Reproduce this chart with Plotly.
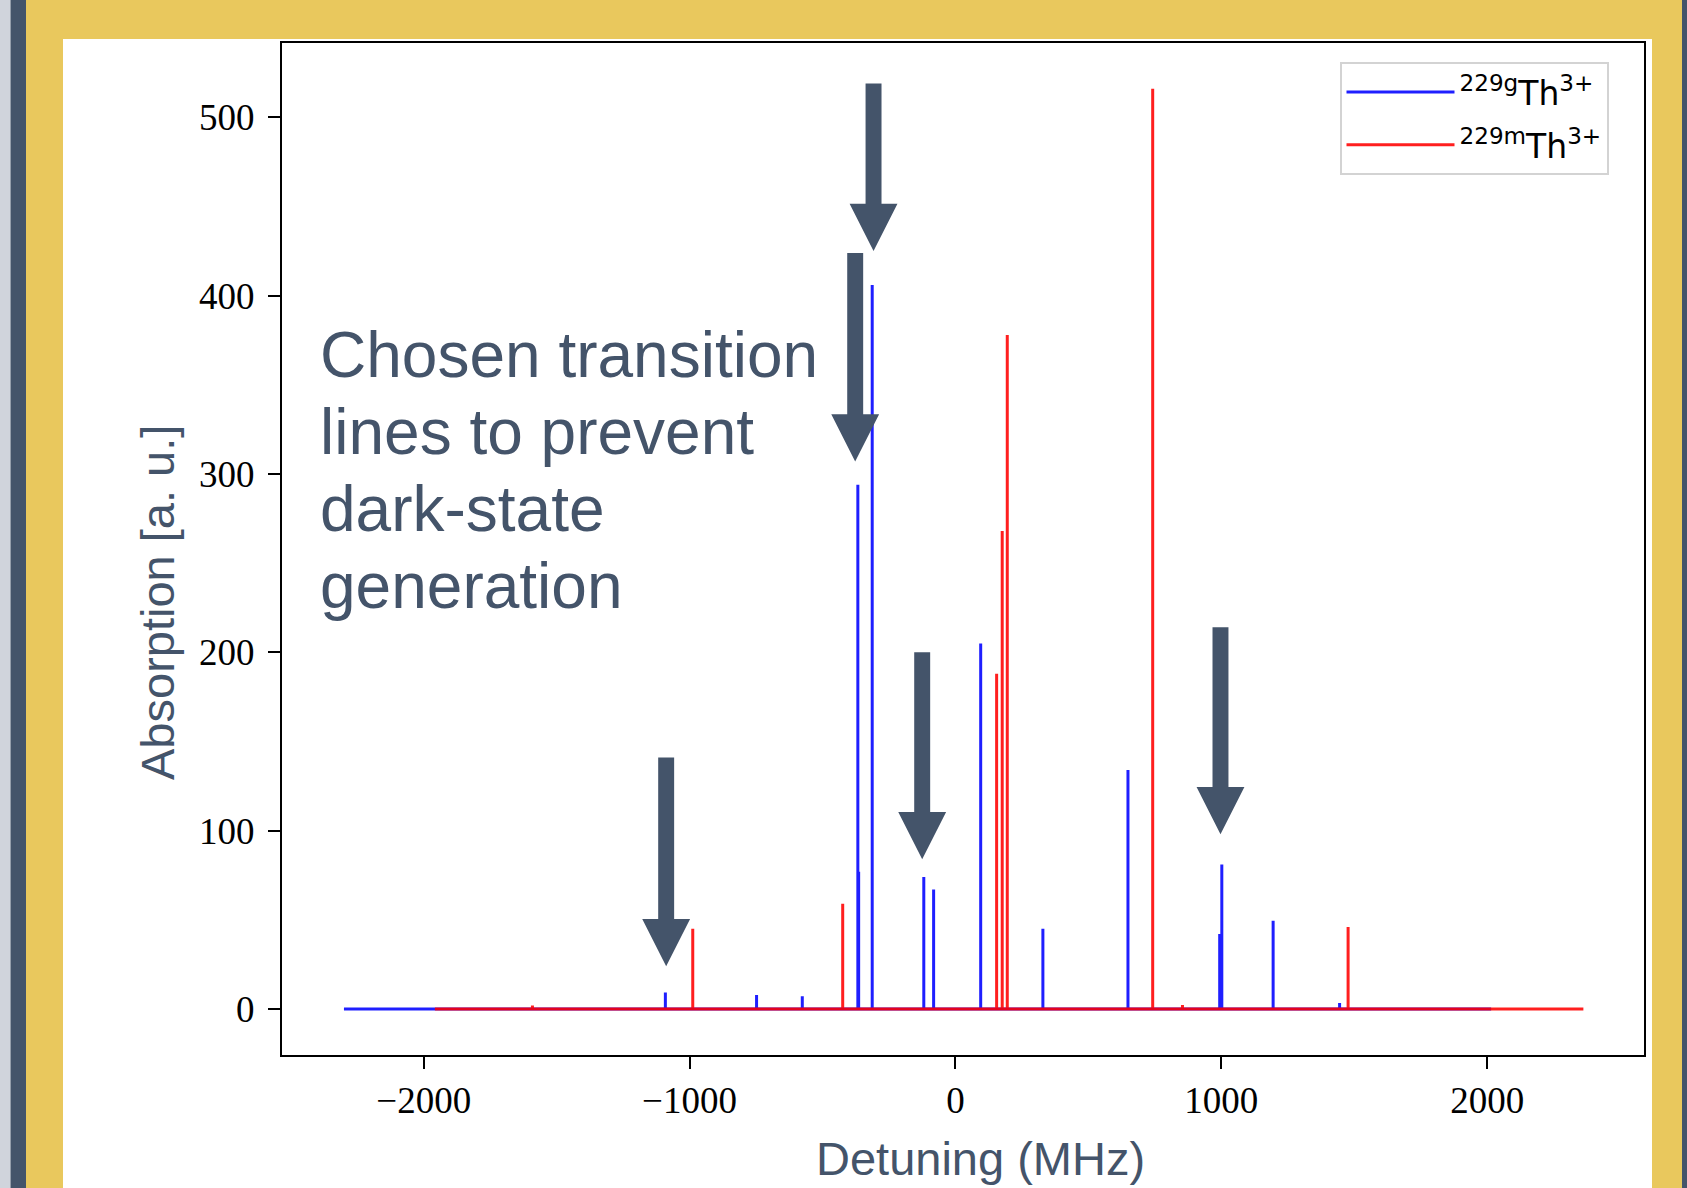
import plotly.graph_objects as go

# ---------------- data ----------------
blue_name = "<sup>229g</sup>Th<sup>3+</sup>"
red_name = "<sup>229m</sup>Th<sup>3+</sup>"

blue_span = [-2300, 2015]          # MHz, extent of the computed spectrum
blue_pos = [-1091, -748, -576, -367, -364, -313, -119, -82, 95, 329, 649, 994, 1002, 1195, 1445]
blue_amp = [9.3, 7.8, 7.1, 294, 77, 406, 74, 67, 205, 45, 134, 42, 81, 49.5, 3.4]

red_span = [-1958, 2362]
red_pos = [-1591, -988, -424, 155, 176, 195, 742, 854, 1477]
red_amp = [2.0, 45, 59, 188, 268, 378, 516, 2.2, 46]

x_ticks = [-2000, -1000, 0, 1000, 2000]
y_ticks = [0, 100, 200, 300, 400, 500]

# annotation arrows: (centre MHz, top of shaft, tip) in data units
arrows = [(-308, 519, 425), (-377, 424, 307), (-125, 200, 84), (997, 214, 98), (-1088, 141, 24)]
note_lines = ["Chosen transition", "lines to prevent", "dark-state", "generation"]

# ---------------- layout geometry ----------------
W, H = 1687, 1188
L, R, T, B = 282, 43, 43, 133
PW, PH = W - L - R, H - T - B
SLATE = "#44546a"
GOLD = "#e9c85d"


def px(x):
    return (x - L) / PW


def py(y):
    return (H - B - y) / PH


def spectrum(span, pos, amp):
    xs, ys = [span[0]], [0]
    for p, a in sorted(zip(pos, amp)):
        xs += [p, p, p]
        ys += [0, a, 0]
    xs.append(span[1])
    ys.append(0)
    return xs, ys


fig = go.Figure()
bx, by = spectrum(blue_span, blue_pos, blue_amp)
rx, ry = spectrum(red_span, red_pos, red_amp)
fig.add_trace(go.Scatter(x=bx, y=by, mode="lines", name=blue_name,
                         line=dict(color="rgba(0,0,255,0.88)", width=3), legendgroup="g"))
fig.add_trace(go.Scatter(x=rx, y=ry, mode="lines", name=red_name,
                         line=dict(color="rgba(255,0,0,0.88)", width=3), legendgroup="m"))

shapes = []
# slide decoration around the figure
for (x0, x1, y0, y1, col) in [
    (0, 10.5, 0, H, "#d0d4dc"),
    (10.5, 26, 0, H, SLATE),
    (26, 63, 0, H, GOLD),
    (26, 1682, 0, 39, GOLD),
    (1652, 1682, 0, H, GOLD),
    (1682, W, 0, H, SLATE),
]:
    shapes.append(dict(type="rect", xref="paper", yref="paper",
                       x0=px(x0), x1=px(x1), y0=py(y1), y1=py(y0),
                       fillcolor=col, line=dict(width=0), layer="below"))

# block arrows
hw, hh, head_h = 30, 90, 26.5
for xc, top, tip in arrows:
    hb = tip + head_h
    path = (f"M {xc-hw},{top} L {xc+hw},{top} L {xc+hw},{hb} L {xc+hh},{hb} "
            f"L {xc},{tip} L {xc-hh},{hb} L {xc-hw},{hb} Z")
    shapes.append(dict(type="path", xref="x", yref="y", path=path,
                       fillcolor=SLATE, line=dict(width=0), layer="above"))

annotations = []
line_centres = [355, 432, 509, 586]
for txt, yc in zip(note_lines, line_centres):
    annotations.append(dict(text=txt, xref="paper", yref="paper", x=px(318), y=py(yc),
                            xanchor="left", yanchor="middle", showarrow=False,
                            font=dict(family="Liberation Sans, Arial", size=64, color=SLATE)))
annotations.append(dict(text="Absorption [a. u.]", xref="paper", yref="paper",
                        x=px(157), y=py(603), textangle=-90, showarrow=False,
                        xanchor="center", yanchor="middle",
                        font=dict(family="Liberation Sans, Arial", size=47, color=SLATE)))
annotations.append(dict(text="Detuning (MHz)", xref="paper", yref="paper",
                        x=px(980), y=py(1158), showarrow=False,
                        xanchor="center", yanchor="middle",
                        font=dict(family="Liberation Sans, Arial", size=47, color=SLATE)))

axis_common = dict(showline=True, linecolor="black", linewidth=2, mirror=True,
                   ticks="outside", ticklen=12, tickwidth=2, tickcolor="black",
                   showgrid=False, zeroline=False,
                   tickfont=dict(family="Liberation Serif, Times New Roman", size=37, color="black"))

fig.update_layout(
    width=W, height=H,
    margin=dict(l=L, r=R, t=T, b=B),
    paper_bgcolor="white", plot_bgcolor="white",
    xaxis=dict(range=[-2533, 2590], tickvals=x_ticks, ticklabelstandoff=0, **axis_common),
    yaxis=dict(range=[-25.8, 541.7], tickvals=y_ticks, ticklabelstandoff=6, **axis_common),
    shapes=shapes, annotations=annotations,
    legend=dict(x=px(1339.5), y=py(62), xanchor="left", yanchor="top",
                bgcolor="white", bordercolor="#d3d3d3", borderwidth=2,
                font=dict(family="DejaVu Sans", size=33, color="black"),
                itemwidth=108, tracegroupgap=7),
    showlegend=True,
)

fig.write_html("out.html", config={"displayModeBar": False},
               post_script="document.body.style.margin='0px';document.body.style.overflow='hidden';")
